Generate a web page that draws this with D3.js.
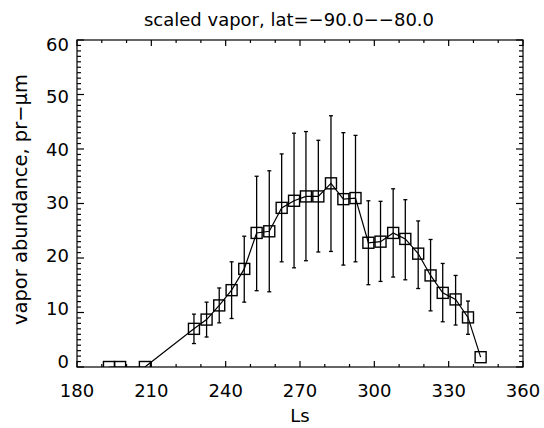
<!DOCTYPE html>
<html>
<head>
<meta charset="utf-8">
<script src="https://cdn.jsdelivr.net/npm/d3@7/dist/d3.min.js"></script>
<style>
  html, body { margin: 0; padding: 0; background: #fff; }
  svg { display: block; }
  text { font-family: "DejaVu Sans", sans-serif; fill: #000; }
</style>
</head>
<body>
<script>
// ---- data ----
const ls    = [192.9, 197.4, 207.4, 227.2, 232.3, 237.4, 242.4, 247.5, 252.5, 257.6, 262.6, 267.6, 272.4, 277.4, 282.5, 287.5, 292.4, 297.6, 302.5, 307.6, 312.5, 317.7, 322.7, 327.6, 332.8, 337.8, 342.9];
const vapor = [0, 0, 0, 7.0, 8.7, 11.3, 14.1, 18.0, 24.6, 24.9, 29.2, 30.5, 31.3, 31.3, 33.7, 30.8, 31.0, 22.8, 23.0, 24.6, 23.5, 20.8, 16.8, 13.6, 12.4, 9.1, 1.8];
const errHi = [0, 0, 0, 9.7, 11.9, 14.5, 19.3, 24.0, 35.0, 36.0, 39.1, 42.9, 43.2, 41.6, 46.1, 43.0, 42.5, 30.5, 30.4, 32.7, 30.7, 26.8, 23.4, 19.0, 16.8, 12.1, 1.8];
const errLo = [0, 0, 0, 4.3, 5.5, 8.1, 8.9, 11.9, 14.0, 13.8, 19.3, 18.2, 19.5, 21.1, 21.2, 18.7, 19.3, 15.1, 15.7, 16.5, 16.0, 14.4, 10.3, 8.3, 7.7, 6.0, 1.8];
const xTicks = [180, 210, 240, 270, 300, 330, 360];
const yTicks = [0, 10, 20, 30, 40, 50, 60];
const titleText = "scaled vapor, lat=\u221290.0\u2212\u221280.0";
const xLabel = "Ls";
const yLabel = "vapor abundance, pr\u2212\u03bcm";

// ---- layout ----
const W = 544, H = 428;
const L = 77, R = 523, T = 40, B = 367;

const svg = d3.select("body").append("svg").attr("width", W).attr("height", H);

const x = d3.scaleLinear().domain([180, 360]).range([L, R]);
const y = d3.scaleLinear().domain([0, 60]).range([B, T]);
// tick-label placement (labels sit slightly inside the tick span in the reference)
const yLab = d3.scaleLinear().domain([0, 60]).range([B - 6, T + 4]);

const fs = 18;

svg.append("clipPath").attr("id", "clip")
  .append("rect").attr("x", L).attr("y", T).attr("width", R - L).attr("height", B - T);

const xMinor = d3.range(180, 361, 10);
const yMinor = d3.range(0, 61, 1);

function drawAxes() {
  const g = svg.append("g");
  const ax = g.append("g").attr("stroke", "#000").attr("stroke-width", 1.2);
  xMinor.forEach(v => {
    const major = v % 30 === 0;
    const len = major ? 6 : 3;
    ax.append("line").attr("x1", x(v)).attr("x2", x(v)).attr("y1", B).attr("y2", B - len);
    ax.append("line").attr("x1", x(v)).attr("x2", x(v)).attr("y1", T).attr("y2", T + len);
  });
  yMinor.forEach(v => {
    const major = v % 10 === 0;
    const len = major ? 7 : 4;
    ax.append("line").attr("x1", L).attr("x2", L + len).attr("y1", y(v)).attr("y2", y(v));
    ax.append("line").attr("x1", R).attr("x2", R - len).attr("y1", y(v)).attr("y2", y(v));
  });
  g.append("rect").attr("x", L).attr("y", T).attr("width", R - L).attr("height", B - T)
    .attr("fill", "none").attr("stroke", "#000").attr("stroke-width", 1.2);

  g.selectAll(".xt").data(xTicks).enter().append("text")
    .attr("x", d => x(d)).attr("y", B + 30)
    .attr("text-anchor", "middle").attr("font-size", fs).text(d => d);
  g.selectAll(".yt").data(yTicks).enter().append("text")
    .attr("x", L - 8).attr("y", d => yLab(d) + 6.5)
    .attr("text-anchor", "end").attr("font-size", fs).text(d => d);

  g.append("text").attr("x", (L + R) / 2).attr("y", B + 55)
    .attr("text-anchor", "middle").attr("font-size", fs).text(xLabel);
  g.append("text").attr("transform", `translate(27,${(T + B) / 2 - 4}) rotate(-90)`)
    .attr("text-anchor", "middle").attr("font-size", 19.5).text(yLabel);
  g.append("text").attr("x", 289).attr("y", 26)
    .attr("text-anchor", "middle").attr("font-size", fs).text(titleText);
}

const data = ls.map((d, i) => ({ x: d, v: vapor[i], hi: errHi[i], lo: errLo[i] }));

const plot = svg.append("g").attr("clip-path", "url(#clip)");

const eb = plot.append("g").attr("stroke", "#000").attr("stroke-width", 1.3);
data.filter(d => d.hi > d.lo).forEach(d => {
  eb.append("line").attr("x1", x(d.x)).attr("x2", x(d.x)).attr("y1", y(d.hi)).attr("y2", y(d.lo));
  eb.append("line").attr("x1", x(d.x) - 2).attr("x2", x(d.x) + 2).attr("y1", y(d.hi)).attr("y2", y(d.hi));
  eb.append("line").attr("x1", x(d.x) - 2).attr("x2", x(d.x) + 2).attr("y1", y(d.lo)).attr("y2", y(d.lo));
});

plot.append("path").datum(data)
  .attr("d", d3.line().x(d => x(d.x)).y(d => y(d.v)))
  .attr("fill", "none").attr("stroke", "#000").attr("stroke-width", 1.2);

const s = 11;
plot.selectAll(".sq").data(data).enter().append("rect")
  .attr("x", d => x(d.x) - s / 2).attr("y", d => y(d.v) - s / 2)
  .attr("width", s).attr("height", s)
  .attr("fill", "none").attr("stroke", "#000").attr("stroke-width", 1.4);

drawAxes();
</script>
</body>
</html>
